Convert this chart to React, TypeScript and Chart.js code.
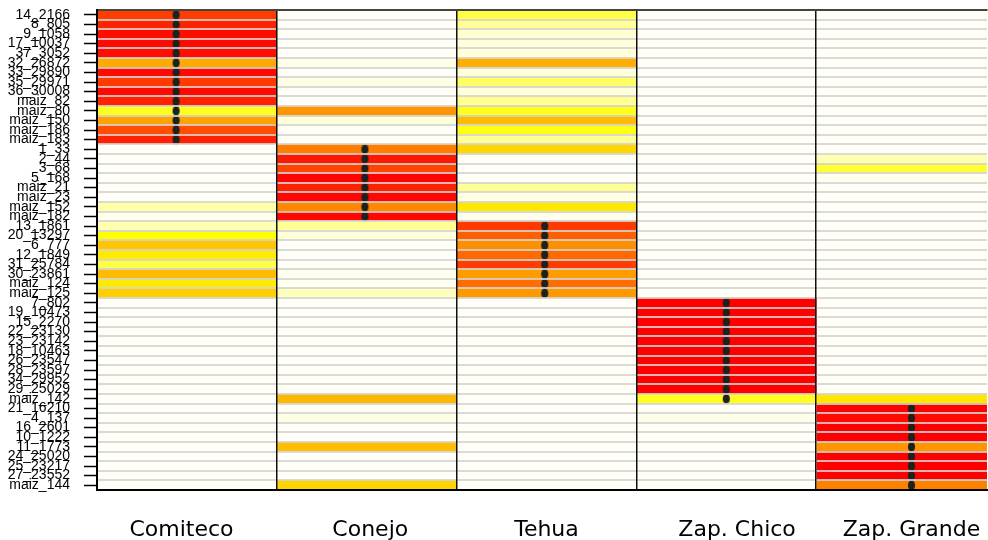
import React, { useEffect, useRef } from 'react';
import { Chart, registerables } from 'chart.js';
Chart.register(...registerables);

const sampleLabels = [
  '14_2166', '8_805', '9_1058', '17_10037', '37_3052', '32_26872', '33_29890', '35_29971', '36_30008',
  'maiz_82', 'maiz_80', 'maiz_150', 'maiz_186', 'maiz_183',
  '1_33', '2_44', '3_68', '5_168', 'maiz_21', 'maiz_23', 'maiz_152', 'maiz_182',
  '13_1861', '20_13297', '6_777', '12_1849', '31_25784', '30_23861', 'maiz_124', 'maiz_125',
  '7_802', '19_10473', '15_2270', '22_23130', '23_23142', '18_10463', '26_23547', '28_23597', '34_29952', '29_25029', 'maiz_142',
  '21_16210', '4_137', '16_2601', '10_1222', '11_1773', '24_25020', '25_23217', '27_23552', 'maiz_144',
];

const groupNames = ['Comiteco', 'Conejo', 'Tehua', 'Zap. Chico', 'Zap. Grande'];

// membership probabilities per group, one value per sample (top to bottom)
const comiteco = [
  0.82, 0.9, 0.96, 0.97, 0.96, 0.5, 0.97, 0.83, 0.97, 0.9, 0.22, 0.52, 0.77, 0.9,
  0, 0, 0, 0, 0, 0, 0.08, 0.01,
  0.07, 0.25, 0.42, 0.31, 0.18, 0.45, 0.31, 0.39,
  0, 0, 0, 0, 0, 0, 0, 0, 0, 0, 0,
  0, 0, 0, 0, 0, 0, 0, 0, 0,
];
const conejo = [
  0, 0, 0, 0, 0, 0.015, 0, 0.02, 0, 0, 0.56, 0.03, 0, 0,
  0.63, 0.93, 0.8, 0.99, 0.9, 0.98, 0.6, 0.98,
  0.1, 0.03, 0, 0, 0, 0.01, 0.01, 0.06,
  0, 0, 0, 0, 0, 0, 0, 0, 0, 0, 0.46,
  0, 0.02, 0, 0, 0.44, 0, 0, 0, 0.38,
];
const tehua = [
  0.18, 0.1, 0.04, 0.03, 0.03, 0.49, 0.03, 0.15, 0.03, 0.1, 0.22, 0.45, 0.23, 0.1,
  0.37, 0, 0, 0, 0.1, 0.02, 0.32, 0.01,
  0.83, 0.72, 0.58, 0.69, 0.82, 0.54, 0.68, 0.55,
  0, 0, 0, 0, 0, 0, 0, 0, 0, 0, 0,
  0, 0, 0, 0, 0, 0, 0, 0, 0,
];
const zapChico = [
  0, 0, 0, 0, 0, 0, 0, 0, 0, 0, 0, 0, 0, 0,
  0, 0, 0, 0, 0, 0, 0, 0,
  0, 0, 0, 0, 0, 0, 0, 0,
  1, 1, 1, 1, 1, 1, 1, 1, 1, 1, 0.22,
  0, 0.015, 0, 0, 0, 0, 0, 0, 0,
];
const zapGrande = [
  0, 0, 0, 0, 0, 0, 0, 0, 0, 0, 0, 0, 0, 0,
  0, 0.07, 0.2, 0.01, 0, 0, 0, 0,
  0, 0, 0, 0, 0, 0, 0, 0,
  0, 0, 0, 0, 0, 0, 0, 0, 0, 0, 0.32,
  1, 0.97, 1, 1, 0.56, 1, 1, 1, 0.62,
];

// sampling origin (group index) of every sample
const origin = [
  0, 0, 0, 0, 0, 0, 0, 0, 0, 0, 0, 0, 0, 0,
  1, 1, 1, 1, 1, 1, 1, 1,
  2, 2, 2, 2, 2, 2, 2, 2,
  3, 3, 3, 3, 3, 3, 3, 3, 3, 3, 3,
  4, 4, 4, 4, 4, 4, 4, 4, 4,
];

const groupDotX = [0.44, 1.49, 2.49, 3.5, 4.53];
const groupLabelX = [0.47, 1.52, 2.5, 3.56, 4.53];

function heatColor(v: number): string {
  const t = 1 - Math.max(0, Math.min(1, v));
  if (t <= 0.75) {
    const g = Math.round((255 * t) / 0.75);
    return `rgb(255,${g},0)`;
  }
  const b = Math.round((247 * (t - 0.75)) / 0.25);
  return `rgb(255,255,${b})`;
}

function makeDot(): HTMLCanvasElement {
  const c = document.createElement('canvas');
  c.width = 9;
  c.height = 12;
  const ctx = c.getContext('2d')!;
  ctx.fillStyle = '#1e221e';
  ctx.beginPath();
  ctx.ellipse(4.5, 6, 3.6, 5.1, 0, 0, Math.PI * 2);
  ctx.fill();
  return c;
}

const CANVAS_W = 993;

export default function App() {
  const ref = useRef<HTMLCanvasElement | null>(null);

  useEffect(() => {
    if (!ref.current) return;
    Chart.defaults.font.family = 'DejaVu Sans';
    const groups = [comiteco, conejo, tehua, zapChico, zapGrande];
    const dot = makeDot();

    const barSets: any[] = groups.map((vals, g) => ({
      type: 'bar',
      label: groupNames[g],
      data: vals.map(() => [g, g + 1]),
      backgroundColor: vals.map(heatColor),
      borderWidth: 0,
      barPercentage: 1,
      categoryPercentage: 1,
      grouped: false,
      order: 2,
      xAxisID: 'x',
      yAxisID: 'y',
    }));

    const dotSet: any = {
      type: 'scatter',
      label: 'origin',
      data: sampleLabels.map((lab, i) => ({ x: groupDotX[origin[i]], y: lab })),
      pointStyle: dot,
      pointRadius: 5,
      showLine: false,
      order: 0,
      xAxisID: 'x',
      yAxisID: 'y',
    };

    const chart = new Chart(ref.current, {
      type: 'bar',
      data: { labels: sampleLabels, datasets: [dotSet, ...barSets] },
      options: {
        indexAxis: 'y',
        responsive: false,
        animation: false,
        layout: { padding: { top: 10, left: 0, right: 0, bottom: 0 } },
        plugins: { legend: { display: false }, tooltip: { enabled: false } },
        scales: {
          x: {
            type: 'linear',
            position: 'bottom',
            min: 0,
            max: 4.95,
            afterBuildTicks: (s: any) => {
              s.ticks = groupLabelX.map((v) => ({ value: v }));
            },
            ticks: {
              autoSkip: false,
              maxRotation: 0,
              padding: 27,
              color: '#000',
              font: { family: 'DejaVu Sans', size: 22 },
              callback: (_v: any, i: number) => groupNames[i],
            },
            grid: { display: false, drawTicks: false },
            border: { display: true, color: '#000', width: 2, z: 3 },
            afterFit: (s: any) => {
              s.height = 50;
              s.paddingLeft = 0;
              s.paddingRight = 0;
            },
          },
          xSep: {
            type: 'linear',
            position: 'top',
            min: 0,
            max: 4.95,
            afterBuildTicks: (s: any) => {
              s.ticks = groupNames.map((_n, i) => ({ value: i }));
            },
            ticks: { display: false },
            grid: { color: '#111', lineWidth: 1.5, drawTicks: false, z: 2 },
            border: { display: true, color: '#444', width: 2, z: 3 },
            afterFit: (s: any) => {
              s.height = 0;
              s.paddingLeft = 0;
              s.paddingRight = 0;
            },
          },
          y: {
            type: 'category',
            labels: sampleLabels,
            position: 'left',
            offset: true,
            ticks: {
              autoSkip: false,
              padding: 14,
              color: '#000',
              font: { family: 'Liberation Sans', size: 14 },
            },
            grid: {
              offset: false,
              drawOnChartArea: false,
              drawTicks: true,
              tickLength: 13,
              tickColor: '#000',
              tickWidth: 1.5,
            },
            border: { display: true, color: '#000', width: 2, z: 3 },
            afterFit: (s: any) => {
              s.width = 97;
              s.paddingTop = 0;
              s.paddingBottom = 0;
            },
          },
          ySep: {
            type: 'category',
            labels: sampleLabels,
            position: 'left',
            offset: true,
            ticks: { display: false },
            grid: { offset: true, color: 'rgba(212,212,212,0.85)', lineWidth: 2, drawTicks: false, z: 1 },
            border: { display: false },
            afterFit: (s: any) => {
              s.width = 0;
              s.paddingTop = 0;
              s.paddingBottom = 0;
            },
          },
        },
      } as any,
    });
    return () => chart.destroy();
  }, []);

  return (
    <div style={{ position: 'absolute', left: 0, top: 0, width: 988, height: 540, overflow: 'hidden' }}>
      <canvas ref={ref} width={CANVAS_W} height={540} style={{ width: CANVAS_W, height: 540, display: 'block' }} />
    </div>
  );
}
